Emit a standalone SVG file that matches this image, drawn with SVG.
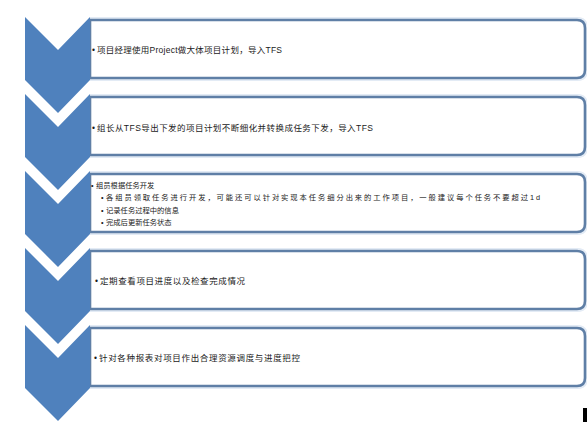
<svg xmlns="http://www.w3.org/2000/svg" width="587" height="427" viewBox="0 0 587 427">
<style>
.box{fill:#ffffff;stroke:#5f7fa6;stroke-width:2.6}
.glow{fill:none;stroke:#e3ebf5;stroke-width:6}
.chev{fill:#4f81bd}
.t{font-family:"Liberation Sans","Noto Sans CJK SC",sans-serif;font-size:8.5px;fill:#1a1a1a}
.s{font-family:"Liberation Sans","Noto Sans CJK SC",sans-serif;font-size:7.3px;fill:#1a1a1a}
</style>
<rect width="587" height="427" fill="#ffffff"/>
<g id="connectors"></g>
<g id="step1">
<path class="glow" d="M90,20 H577 Q585,20 585,28 V70 Q585,78 577,78 H90"/>
<path class="box" d="M90,20 H577 Q585,20 585,28 V70 Q585,78 577,78 H90 Z"/>
<polygon class="chev" points="25,17 58,50 90,17 90,80 58,113 25,80"/>
<text class="t" x="92" y="53">•</text>
<text class="t" x="97" y="53" textLength="185" lengthAdjust="spacing">项目经理使用Project做大体项目计划，导入TFS</text>
</g>
<g id="step2">
<path class="glow" d="M90,97 H577 Q585,97 585,105 V147 Q585,155 577,155 H90"/>
<path class="box" d="M90,97 H577 Q585,97 585,105 V147 Q585,155 577,155 H90 Z"/>
<polygon class="chev" points="25,94 58,127 90,94 90,157 58,190 25,157"/>
<text class="t" x="92" y="131">•</text>
<text class="t" x="97" y="131" textLength="276" lengthAdjust="spacing">组长从TFS导出下发的项目计划不断细化并转换成任务下发，导入TFS</text>
</g>
<g id="step3">
<path class="glow" d="M90,174 H577 Q585,174 585,182 V224 Q585,232 577,232 H90"/>
<path class="box" d="M90,174 H577 Q585,174 585,182 V224 Q585,232 577,232 H90 Z"/>
<polygon class="chev" points="25,171 58,204 90,171 90,234 58,267 25,234"/>
<text class="s" x="91" y="188">•</text>
<text class="s" x="96" y="188">组员根据任务开发</text>
<text class="s" x="101" y="200">•</text>
<text class="s" x="106" y="200" textLength="434" lengthAdjust="spacing">各组员领取任务进行开发，可能还可以针对实现本任务细分出来的工作项目，一般建议每个任务不要超过1d</text>
<text class="s" x="101" y="213">•</text>
<text class="s" x="106" y="213">记录任务过程中的信息</text>
<text class="s" x="101" y="225">•</text>
<text class="s" x="106" y="225">完成后更新任务状态</text>
</g>
<g id="step4">
<path class="glow" d="M90,251 H577 Q585,251 585,259 V301 Q585,309 577,309 H90"/>
<path class="box" d="M90,251 H577 Q585,251 585,259 V301 Q585,309 577,309 H90 Z"/>
<polygon class="chev" points="25,248 58,281 90,248 90,311 58,344 25,311"/>
<text class="t" x="95" y="284">•</text>
<text class="t" x="100" y="284" textLength="145" lengthAdjust="spacing">定期查看项目进度以及检查完成情况</text>
</g>
<g id="step5">
<path class="glow" d="M90,328 H577 Q585,328 585,336 V378 Q585,386 577,386 H90"/>
<path class="box" d="M90,328 H577 Q585,328 585,336 V378 Q585,386 577,386 H90 Z"/>
<polygon class="chev" points="25,325 58,358 90,325 90,388 58,421 25,388"/>
<text class="t" x="94" y="361">•</text>
<text class="t" x="99" y="361" textLength="201" lengthAdjust="spacing">针对各种报表对项目作出合理资源调度与进度把控</text>
</g>
<rect x="583" y="408" width="4" height="14" fill="#000000"/>
</svg>
